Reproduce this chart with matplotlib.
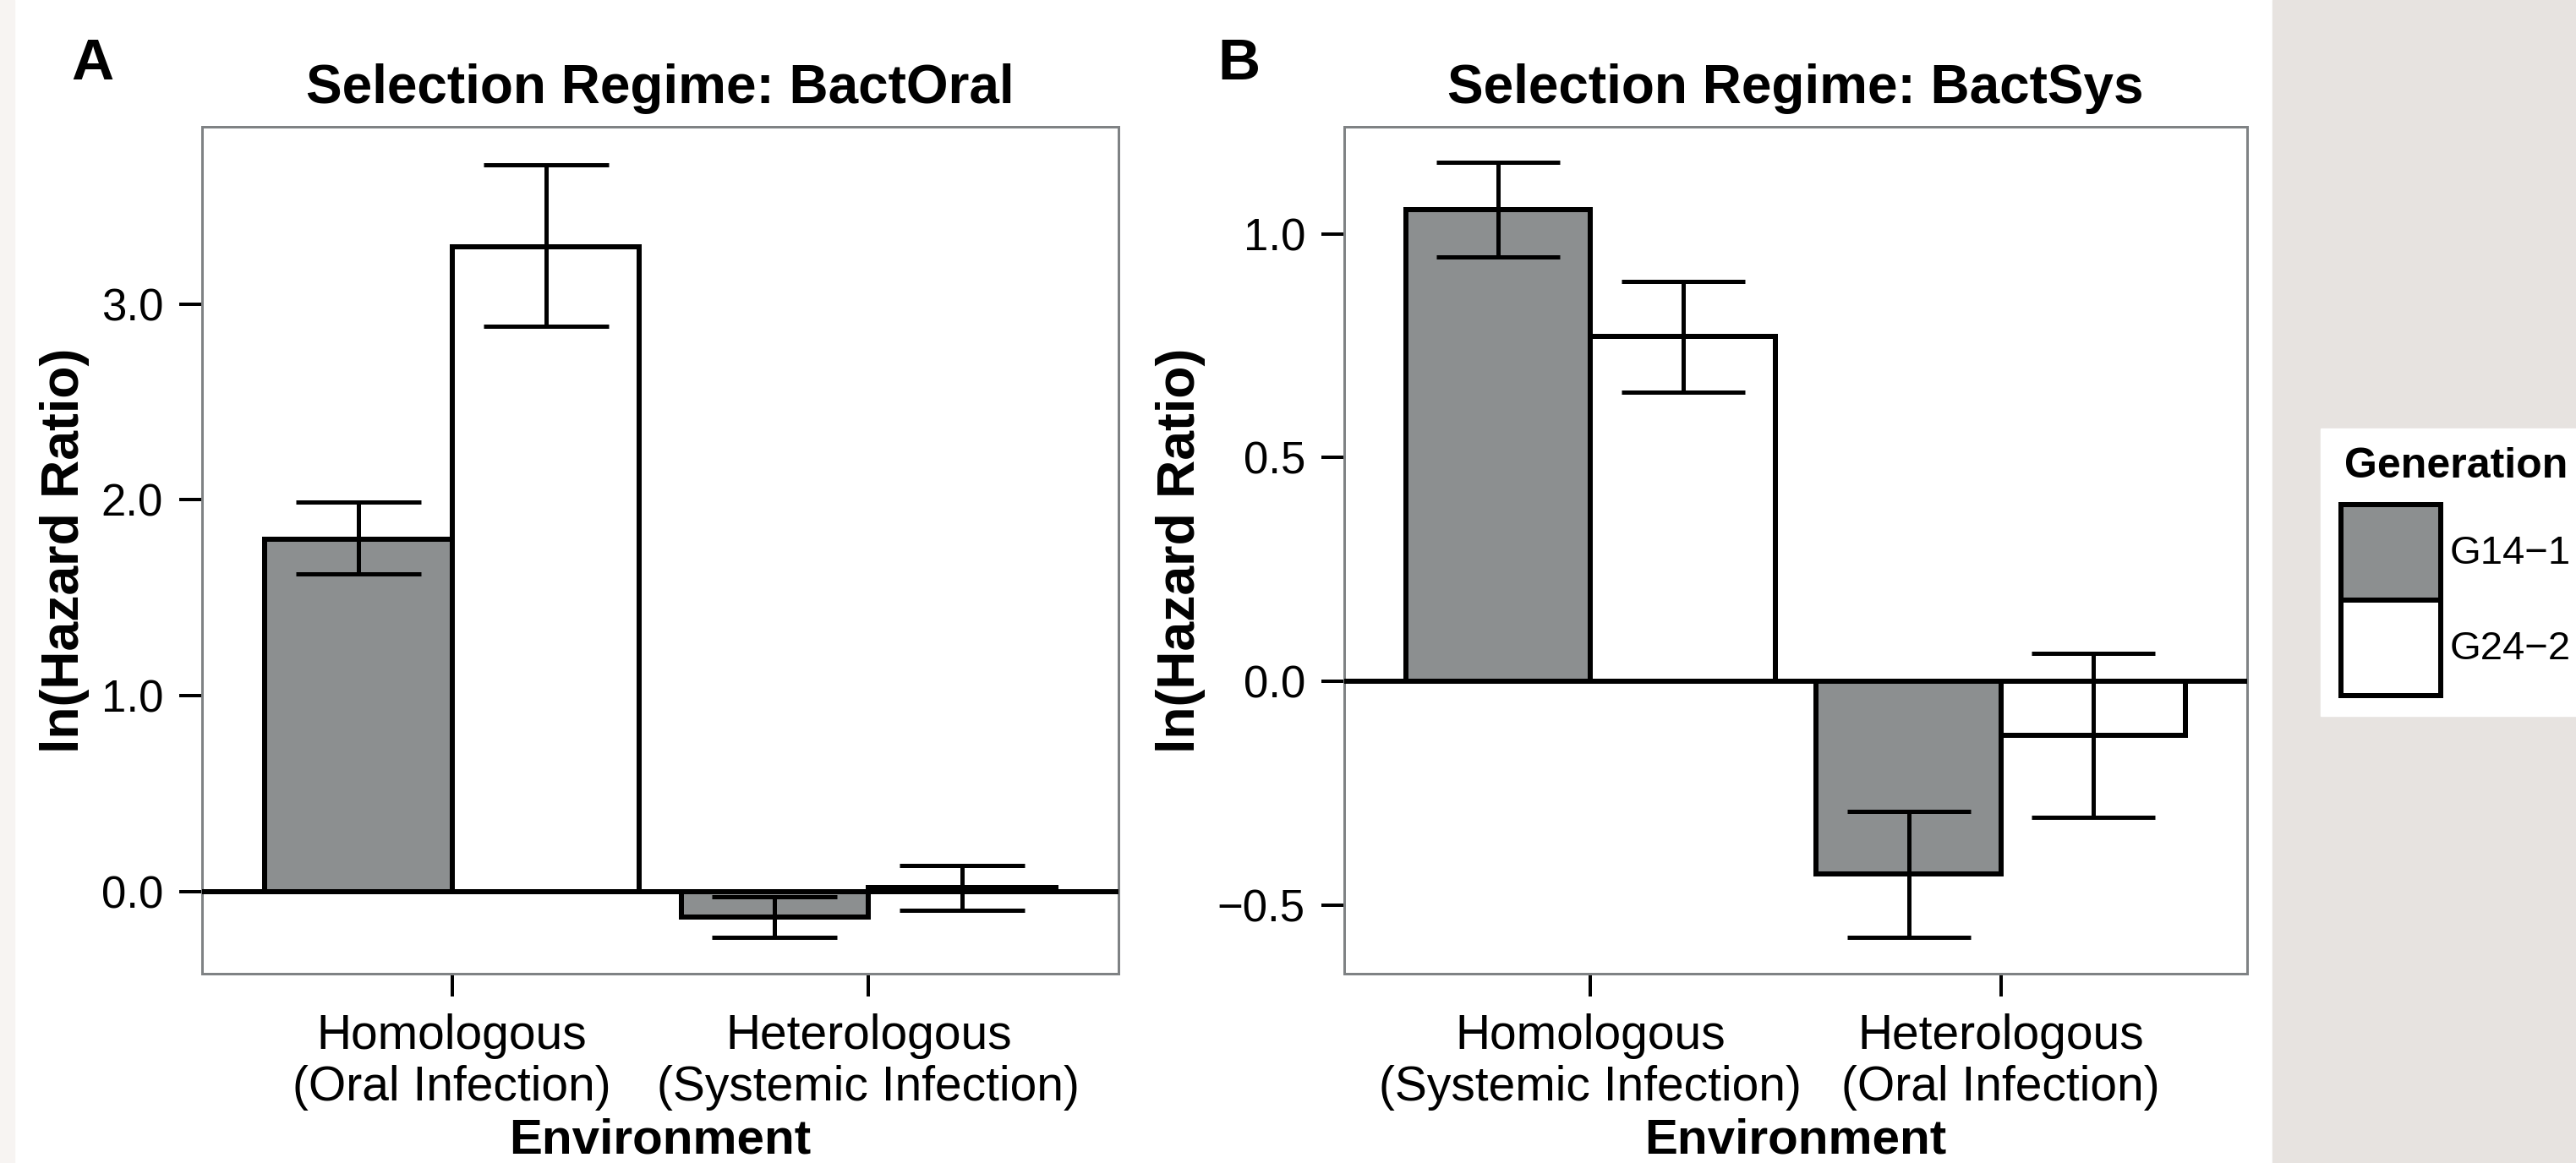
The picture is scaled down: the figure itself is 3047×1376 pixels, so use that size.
import numpy as np
import matplotlib
matplotlib.use("Agg")
import matplotlib.pyplot as plt
from matplotlib.patches import Rectangle

plt.rcParams['font.family'] = ['Liberation Sans', 'DejaVu Sans']

# values (ln hazard ratio, mean and error-bar limits)
generations = ["G14\u22121", "G24\u22122"]
fills = ["#8c8f90", "#ffffff"]

envs_a = ["Homologous\n(Oral Infection)", "Heterologous\n(Systemic Infection)"]
mean_a = {"G14": [1.80, -0.13], "G24": [3.29, 0.02]}
lo_a = {"G14": [1.62, -0.235], "G24": [2.885, -0.098]}
hi_a = {"G14": [1.99, -0.028], "G24": [3.71, 0.134]}

envs_b = ["Homologous\n(Systemic Infection)", "Heterologous\n(Oral Infection)"]
mean_b = {"G14": [1.054, -0.431], "G24": [0.770, -0.121]}
lo_b = {"G14": [0.948, -0.571], "G24": [0.647, -0.304]}
hi_b = {"G14": [1.159, -0.291], "G24": [0.894, 0.062]}

W, H = 3047, 1376
fig = plt.figure(figsize=(W / 100, H / 100), dpi=100)
fig.patch.set_facecolor("white")
fig.patches.append(Rectangle((0, 0), 17 / W, 1, transform=fig.transFigure,
                             color="#f7f4f2", zorder=-10))
fig.patches.append(Rectangle((2688 / W, 0), 1, 1, transform=fig.transFigure,
                             color="#e7e3e0", zorder=-10))

px = 100 / 72  # pixels per point
lw_bar = 6 / px
lw_err = 5 / px


def panel(ax, ax_px, envs, mean, lo, hi, title, yticks, ylim):
    x = np.arange(len(envs)) + 1
    width = 0.45
    cap = 0.3 / 2.2 * ax_px / px / 2
    for i, g in enumerate(["G14", "G24"]):
        xs = x + (i - 0.5) * width
        ax.bar(xs, mean[g], width=width, color=fills[i], edgecolor="black",
               linewidth=lw_bar, zorder=2)
        m = np.array(mean[g])
        ax.errorbar(xs, m, yerr=[m - np.array(lo[g]), np.array(hi[g]) - m],
                    fmt="none", ecolor="black", elinewidth=lw_err,
                    capsize=cap, capthick=lw_err, zorder=3)
    ax.axhline(0, color="black", linewidth=lw_bar, zorder=4)
    ax.set_xlim(0.4, 2.6)
    ax.set_ylim(*ylim)
    ax.set_xticks(x)
    ax.set_xticklabels(envs, fontsize=41, linespacing=1.17)
    ax.set_yticks(yticks)
    ax.set_yticklabels(["%.1f" % t if t >= 0 else "\u2212%.1f" % -t for t in yticks],
                       fontsize=38)
    ax.tick_params(length=27 / px, width=4 / px, color="black")
    ax.tick_params(axis="y", pad=19 / px)
    ax.tick_params(axis="x", pad=20 / px)
    for s in ax.spines.values():
        s.set_color("#7f8284")
        s.set_linewidth(3 / px)
    ax.set_title(title, fontsize=46, fontweight="bold", pad=20)
    ax.set_ylabel("ln(Hazard Ratio)", fontsize=45, fontweight="bold", labelpad=10)
    ax.set_xlabel("Environment", fontsize=42, fontweight="bold", labelpad=6)


ax_a = fig.add_axes([239 / W, 1 - 1152 / H, (1323 - 239) / W, (1152 - 150) / H])
panel(ax_a, 1323 - 239, envs_a, mean_a, lo_a, hi_a, "Selection Regime: BactOral",
      [0.0, 1.0, 2.0, 3.0], (-0.42, 3.905))

ax_b = fig.add_axes([1590 / W, 1 - 1152 / H, (2658 - 1590) / W, (1152 - 150) / H])
panel(ax_b, 2658 - 1590, envs_b, mean_b, lo_b, hi_b, "Selection Regime: BactSys",
      [-0.5, 0.0, 0.5, 1.0], (-0.653, 1.239))

fig.text(84 / W, 1 - 76 / H, "A", fontsize=50, fontweight="bold", ha="left", va="center")
fig.text(1440 / W, 1 - 76 / H, "B", fontsize=50, fontweight="bold", ha="left", va="center")

# legend box (runs off the right edge like the reference)
fig.patches.append(Rectangle((2745 / W, 1 - 847 / H), 400 / W, 340 / H,
                             transform=fig.transFigure, color="white", zorder=-5))
fig.text(2773 / W, 1 - 552 / H, "Generation", fontsize=36, fontweight="bold",
         ha="left", va="center")
key_top = [597, 710]
for i, g in enumerate(generations):
    fig.patches.append(Rectangle((2769 / W, 1 - (key_top[i] + 113) / H), 118 / W, 113 / H,
                                 transform=fig.transFigure, facecolor=fills[i],
                                 edgecolor="black", linewidth=lw_bar, zorder=2))
    fig.text(2898 / W, 1 - (key_top[i] + 58) / H, g, fontsize=34,
             ha="left", va="center")

fig.savefig("out.png", dpi=100)
